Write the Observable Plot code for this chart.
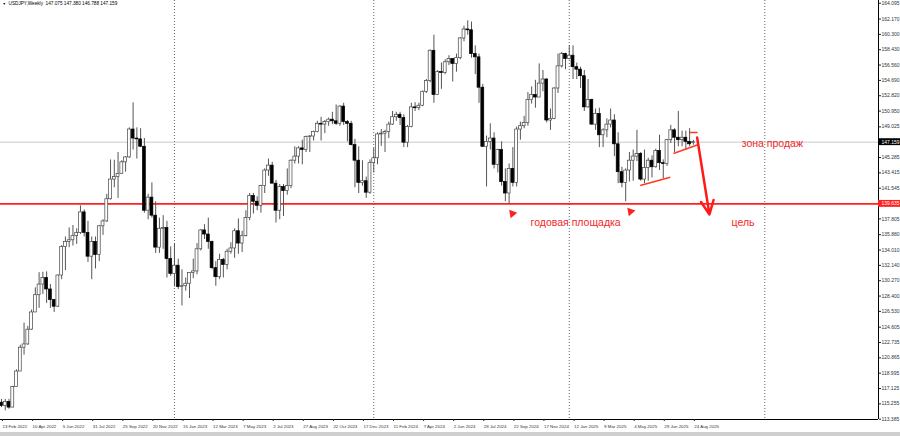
<!DOCTYPE html>
<html><head><meta charset="utf-8">
<script src="https://cdn.jsdelivr.net/npm/d3@7"></script>
<script src="https://cdn.jsdelivr.net/npm/@observablehq/plot@0.6"></script>
<style>
html,body{margin:0;padding:0;background:#fff;overflow:hidden;}
#wrap{position:relative;width:900px;height:436px;}
#bar{position:absolute;left:0;top:432px;width:900px;height:4px;background:#cfcfcf;}
svg{display:block;}
</style></head>
<body><div id="wrap"><div id="chart"></div><div id="bar"></div></div>
<script>
// ---- data (USDJPY weekly, first bar = week of 13 Feb 2022) ----
const symbolTitle = "USDJPY,Weekly  147.075 147.380 146.788 147.159";
const firstWeek = "2022-02-13";
const opens = [115.4,115.0,115.5,114.8,117.3,119.2,122.1,122.5,124.3,126.4,128.5,129.8,130.6,129.2,127.9,127.1,130.9,134.4,135.0,135.2,135.7,136.1,138.6,136.1,133.2,135.0,133.4,136.9,137.5,140.2,142.6,142.9,143.3,144.7,145.3,148.7,147.6,147.5,146.6,138.8,140.4,138.2,134.3,136.6,136.7,132.9,
131.1,132.1,129.5,129.6,129.9,131.2,131.4,134.1,136.4,135.9,135.0,131.8,130.7,132.8,132.2,133.8,134.2,136.3,134.8,135.7,137.9,140.6,139.9,139.4,141.8,143.7,144.3,142.1,138.8,141.7,141.2,141.8,144.9,145.4,146.4,146.2,147.8,147.85,148.4,149.4,149.3,149.6,149.9,149.7,149.4,151.5,149.6,149.4,146.8,144.9,142.2,142.4,141.0,
144.6,145.2,148.1,148.2,148.4,149.3,150.2,150.5,150.1,147.1,149.0,151.4,151.3,151.6,153.3,154.6,158.3,152.9,155.7,155.6,156.9,157.3,156.7,157.4,159.8,160.9,160.8,157.9,157.5,153.8,146.6,147.2,147.6,144.4,146.2,142.3,140.9,143.9,142.2,148.7,149.1,149.5,152.3,152.9,152.6,154.3,154.8,149.8,150.0,153.7,156.4,157.9,
157.3,157.7,156.3,156.0,155.2,151.4,152.3,149.3,150.6,148.0,148.6,149.3,149.8,146.9,143.5,142.2,143.7,144.9,145.4,145.7,142.6,144.0,144.9,144.1,146.1,144.6,144.5,147.4,148.6,147.7,147.4,147.7,147.2,147.075];
const highs = [115.8,115.8,115.8,117.4,119.4,122.4,125.1,124.7,126.7,129.4,131.25,131.3,131.35,129.8,128.0,130.98,134.55,135.6,136.7,137.0,136.6,139.4,138.9,137.5,135.6,135.6,137.0,137.7,140.8,144.99,144.96,145.9,144.9,145.4,148.9,151.95,148.9,148.8,147.6,140.8,142.2,139.9,137.9,138.2,137.5,134.4,
134.8,132.9,131.6,130.6,131.2,132.9,134.8,136.5,137.1,137.9,135.1,132.6,133.5,133.0,134.1,134.9,136.6,137.8,136.3,138.8,140.9,140.9,140.5,141.9,143.9,145.1,144.7,142.5,142.0,142.0,143.9,145.0,146.6,146.6,147.4,147.9,147.95,148.5,149.7,150.2,149.8,150.1,150.8,151.7,151.6,151.9,149.8,149.7,147.5,146.6,144.9,142.9,
145.0,146.4,148.3,148.7,148.6,149.6,150.9,150.8,150.8,150.5,149.2,151.9,151.97,151.9,153.4,154.8,158.4,160.2,155.9,156.8,157.2,157.7,157.3,157.9,159.9,161.3,161.95,161.8,158.9,157.9,154.2,147.9,149.4,148.3,146.3,147.2,143.9,144.5,146.5,149.0,149.6,150.3,153.2,153.9,154.7,156.7,155.9,154.9,151.2,153.8,157.9,158.1,
158.0,158.9,158.9,156.8,156.3,155.9,154.8,152.4,151.2,151.3,148.8,150.0,151.2,150.5,148.3,144.1,143.9,145.9,146.2,148.6,145.9,146.2,145.2,145.5,146.3,148.0,145.0,147.5,149.2,148.8,150.9,148.5,148.5,148.8,147.38];
const lows = [114.8,114.4,114.6,114.8,117.3,119.2,121.2,122.4,124.2,126.4,126.9,128.6,127.5,126.9,126.4,127.0,130.4,131.5,134.3,134.5,134.7,135.9,135.6,132.5,130.4,131.7,132.6,135.8,137.4,140.1,141.6,140.3,143.3,143.5,145.2,146.2,145.1,146.5,138.5,137.7,137.9,133.6,133.6,134.1,130.6,130.8,
129.5,129.2,127.2,129.0,128.1,130.5,131.0,133.9,135.3,134.1,131.6,129.6,130.4,130.6,131.6,133.5,133.0,133.5,133.7,135.6,137.6,138.4,138.8,138.5,140.9,143.0,142.1,137.3,137.7,138.1,140.7,141.5,144.5,144.5,144.4,145.9,145.9,147.3,148.3,147.3,148.2,149.1,149.3,149.2,149.1,149.2,147.2,146.7,141.6,140.9,141.8,140.3,
140.8,143.4,144.4,146.65,145.9,147.6,149.2,149.7,149.2,146.5,146.5,148.9,150.9,151.0,151.5,153.1,154.4,151.9,152.9,153.6,155.4,156.5,154.5,155.7,157.2,159.4,160.2,157.4,155.4,151.9,146.5,141.7,146.2,143.9,143.4,141.8,139.9,139.6,141.7,141.7,147.4,148.8,149.1,151.8,151.3,152.6,153.3,149.5,148.6,149.9,153.1,156.2,
156.0,157.2,154.8,154.8,153.7,150.9,151.3,149.2,148.6,146.5,146.5,147.7,148.9,145.4,142.1,141.6,139.9,142.3,142.4,144.8,142.4,142.1,142.4,142.8,144.0,143.7,142.7,144.2,147.0,145.9,146.6,146.6,146.2,146.6,146.788];
const closes = [115.0,115.5,114.8,117.3,119.2,122.1,122.5,124.3,126.4,128.5,129.8,130.6,129.2,127.9,127.1,130.9,134.4,135.0,135.2,135.7,136.1,138.6,136.1,133.2,135.0,133.4,136.9,137.5,140.2,142.6,142.9,143.3,144.7,145.3,148.7,147.6,147.5,146.6,138.8,140.4,138.2,134.3,136.6,136.7,132.9,131.1,
132.1,129.5,129.6,129.9,131.2,131.4,134.1,136.4,135.9,135.0,131.8,130.7,132.8,132.2,133.8,134.2,136.3,134.8,135.7,137.9,140.6,139.9,139.4,141.8,143.7,144.3,142.1,138.8,141.7,141.2,141.8,144.9,145.4,146.4,146.2,147.8,147.85,148.4,149.4,149.3,149.6,149.9,149.7,149.4,151.5,149.6,149.4,146.8,144.9,142.2,142.4,141.0,
144.6,145.2,148.1,148.2,148.4,149.3,150.2,150.5,150.1,147.1,149.0,151.4,151.3,151.6,153.3,154.6,158.3,152.9,155.7,155.6,156.9,157.3,156.7,157.4,159.8,160.9,160.8,157.9,157.5,153.8,146.6,147.2,147.6,144.4,146.2,142.3,140.9,143.9,142.2,148.7,149.1,149.5,152.3,152.9,152.6,154.3,154.8,149.8,150.0,153.7,156.4,157.9,
157.3,157.7,156.3,156.0,155.2,151.4,152.3,149.3,150.6,148.0,148.6,149.3,149.8,146.9,143.5,142.2,143.7,144.9,145.4,145.7,142.6,144.0,144.9,144.1,146.1,144.6,144.5,147.4,148.6,147.7,147.4,147.7,147.2,146.9,147.159];

const priceTicks = [164.095,162.170,160.300,158.430,156.560,154.690,152.820,150.950,149.025,145.285,143.415,141.545,137.805,135.880,134.010,132.140,130.270,128.400,126.530,124.605,122.735,120.865,118.995,117.125,115.255,113.385];
const dateTickLabels = ["13 Feb 2022","10 Apr 2022","5 Jun 2022","31 Jul 2022","25 Sep 2022","20 Nov 2022","15 Jan 2023","12 Mar 2023","7 May 2023","2 Jul 2023","27 Aug 2023","22 Oct 2023","17 Dec 2023","11 Feb 2024","7 Apr 2024","2 Jun 2024","28 Jul 2024","22 Sep 2024","17 Nov 2024","12 Jan 2025","9 Mar 2025","4 May 2025","29 Jun 2025","24 Aug 2025"];
const separatorDates = ["2023-01-01","2024-01-07","2025-01-05","2026-01-04"];
const lastPrice = 147.159;
const levelPrice = 139.635;

// annotations (drawn objects)
const trendLines = [
  {d1:"2025-05-17", p1:141.88, d2:"2025-07-12", p2:142.89},
  {d1:"2025-07-18", p1:145.78, d2:"2025-08-31", p2:146.81},
  {d1:"2025-08-17", p1:148.34, d2:"2025-09-01", p2:148.34}
];
const targetArrow = {d1:"2025-08-31", p1:147.73, d2:"2025-09-23", p2:138.35};
const arrowMarks = [{d:"2024-09-21", p:138.46},{d:"2025-04-29", p:138.71}];
const labels = [
  {d:"2025-11-22", p:146.93, text:"зона продаж"},
  {d:"2024-10-25", p:137.36, text:"годовая площадка"},
  {d:"2025-11-03", p:137.36, text:"цель"}
];

// ---- build ----
const parse = d3.utcParse("%Y-%m-%d");
const parseLbl = d3.utcParse("%d %b %Y");
const t0 = parse(firstWeek);
const DAY = 864e5, WEEK = 7*DAY;
const candles = opens.map((o,i)=>({date:new Date(+t0 + i*WEEK), open:o, high:highs[i], low:lows[i], close:closes[i]}));
const xDomain = [new Date(+t0 - 0.266*WEEK), new Date(+t0 + 233.24*WEEK)];
const yDomain = [113.35, 164.43];
const half = 2.7*DAY;
const red = "#ff2020";
const font = "'Liberation Sans', Arial, sans-serif";
const boxW = 41*DAY;

const chart = Plot.plot({
  width: 900, height: 436,
  marginTop: 0, marginBottom: 17, marginLeft: 0, marginRight: 22,
  style: {fontFamily: font, background: "#fff", color: "#222", overflow: "visible"},
  x: {type: "utc", domain: xDomain},
  y: {domain: yDomain},
  marks: [
    Plot.ruleX(separatorDates.map(parse), {stroke: "#666", strokeDasharray: "1,2", strokeWidth: 1}),
    Plot.ruleY([lastPrice], {stroke: "#c8c8c8", strokeWidth: 1}),
    Plot.ruleY([levelPrice], {stroke: red, strokeWidth: 1.6}),
    Plot.ruleX(candles, {x: "date", y1: "low", y2: "high", stroke: "#555", strokeWidth: 1}),
    Plot.rect(candles, {
      x1: d => new Date(+d.date - half), x2: d => new Date(+d.date + half),
      y1: "open", y2: "close",
      fill: d => d.close >= d.open ? "#ffffff" : "#000000",
      stroke: d => d.close >= d.open ? "#444" : "#000", strokeWidth: 0.7
    }),
    Plot.link(trendLines, {x1: d => parse(d.d1), y1: "p1", x2: d => parse(d.d2), y2: "p2", stroke: "#ff3a1e", strokeWidth: 1.5}),
    Plot.arrow([targetArrow], {x1: d => parse(d.d1), y1: "p1", x2: d => parse(d.d2), y2: "p2", stroke: "#ff1a1a", strokeWidth: 2.5, headLength: 9, headAngle: 50}),
    Plot.dot(arrowMarks, {x: d => parse(d.d), y: "p", symbol: "triangle", r: 3.2, rotate: -40, fill: red, stroke: "none"}),
    Plot.text(labels, {x: d => parse(d.d), y: "p", text: "text", fill: "#f02828", fontSize: 10.5, textAnchor: "start", lineAnchor: "middle"}),
    // axes
    Plot.ruleY([yDomain[0]], {stroke: "#000", strokeWidth: 1}),
    Plot.ruleX([xDomain[1]], {stroke: "#000", strokeWidth: 1}),
    Plot.axisY({anchor: "right", ticks: priceTicks, tickFormat: d => d.toFixed(3), tickSize: 2, tickPadding: 1, fontSize: 5, fill: "#333"}),
    Plot.axisX({anchor: "bottom", ticks: dateTickLabels.map(parseLbl), tickFormat: d3.utcFormat("%-d %b %Y"), tickSize: 2, tickPadding: 3, textAnchor: "start", dx: 1, fontSize: 4.4, fill: "#333"}),
    // price boxes
    Plot.rect([lastPrice], {x1: xDomain[1], x2: new Date(+xDomain[1] + boxW), y1: d => d - 0.42, y2: d => d + 0.42, fill: "#000"}),
    Plot.text([lastPrice], {x: xDomain[1], y: d => d, text: d => d.toFixed(3), dx: 3, textAnchor: "start", fill: "#fff", fontSize: 5}),
    Plot.rect([levelPrice], {x1: xDomain[1], x2: new Date(+xDomain[1] + boxW), y1: d => d - 0.42, y2: d => d + 0.42, fill: red}),
    Plot.text([levelPrice], {x: xDomain[1], y: d => d, text: d => d.toFixed(3), dx: 3, textAnchor: "start", fill: "#fff", fontSize: 5}),
    // title
    Plot.text(["▼"], {frameAnchor: "top-left", dx: 2, dy: 2, fontSize: 3.5, lineAnchor: "top", fill: "#000"}),
    Plot.text([symbolTitle], {frameAnchor: "top-left", dx: 8, dy: 1.5, fontSize: 4.7, lineAnchor: "top", fill: "#000", textAnchor: "start"})
  ]
});
document.getElementById("chart").appendChild(chart);
</script>
</body></html>
